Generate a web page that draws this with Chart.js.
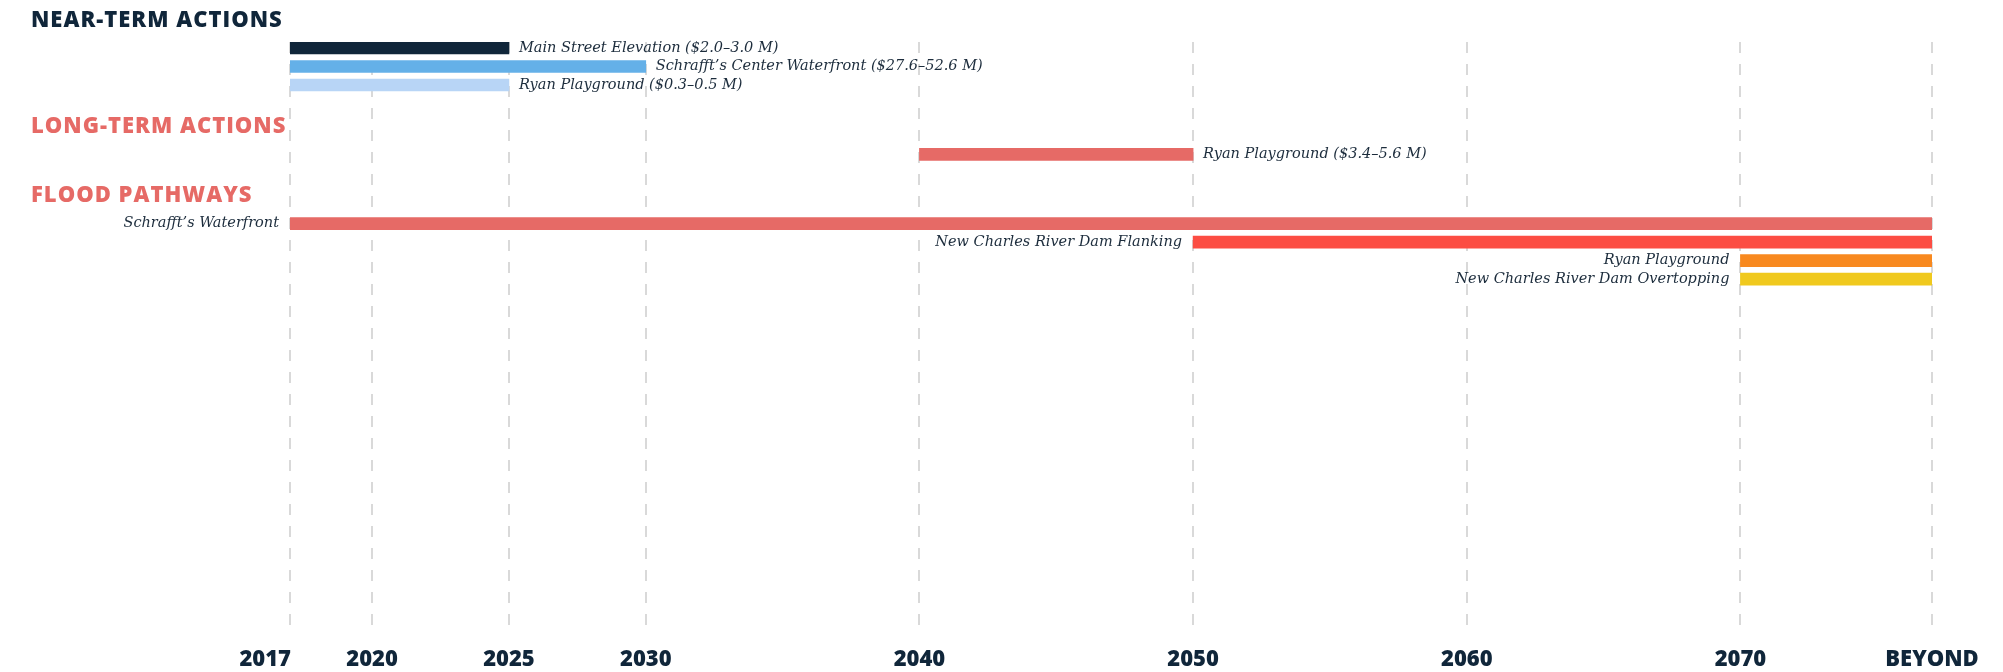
<!DOCTYPE html>
<html>
<head>
<meta charset="utf-8">
<script src="https://cdn.jsdelivr.net/npm/chart.js@4.4.1/dist/chart.umd.min.js"></script>
<style>
  html, body { margin: 0; padding: 0; background: #fff; }
  #wrap { width: 2003px; height: 672px; }
</style>
</head>
<body>
<div id="wrap"><canvas id="timeline" width="2003" height="672"></canvas></div>
<script>
// Data

const groupTitles = ['NEAR-TERM ACTIONS', 'LONG-TERM ACTIONS', 'FLOOD PATHWAYS'];

const nearLabels = ['Main Street Elevation ($2.0–3.0 M)', 'Schrafft’s Center Waterfront ($27.6–52.6 M)', 'Ryan Playground ($0.3–0.5 M)'];
const nearStart = [2017, 2017, 2017];
const nearEnd = [2025, 2030, 2025];

const longLabels = ['Ryan Playground ($3.4–5.6 M)'];
const longStart = [2040];
const longEnd = [2050];

const floodLabels = ['Schrafft’s Waterfront', 'New Charles River Dam Flanking', 'Ryan Playground', 'New Charles River Dam Overtopping'];
const floodStart = [2017, 2050, 2070, 2070];
const floodEnd = [2077, 2077, 2077, 2077]; // 2077 = "BEYOND"

const yearTicks = [2017, 2020, 2025, 2030, 2040, 2050, 2060, 2070, 2077];
const yearTickLabels = ['2017', '2020', '2025', '2030', '2040', '2050', '2060', '2070', 'BEYOND'];

// Styles

const NAVY = '#10263a';
const SALMON = '#e66a66';
const TEXT = '#1c2c3c';
const nearColors = ['#10263a', '#64b0e8', '#b8d5f6'];
const longColors = ['#e66a66'];
const floodColors = ['#e66a66', '#fc4d43', '#f8891f', '#f0c91e'];

const ROW_PX = 18.5;       // pixels per bar row
const TITLE_TO_BAR = 1.5;  // rows between a title and its first bar
const BAR_TO_TITLE = 2.25; // rows between a group's last bar and the next title
const AREA_TOP = 42;
const AREA_BOTTOM = 631;

// Build rows

const groups = [
  { title: groupTitles[0], titleColor: NAVY, labels: nearLabels, start: nearStart, end: nearEnd, colors: nearColors, side: 'right' },
  { title: groupTitles[1], titleColor: SALMON, labels: longLabels, start: longStart, end: longEnd, colors: longColors, side: 'right' },
  { title: groupTitles[2], titleColor: SALMON, labels: floodLabels, start: floodStart, end: floodEnd, colors: floodColors, side: 'left' }
];

const titleRows = [];
const bars = [];
let slot = -TITLE_TO_BAR;
groups.forEach((g, gi) => {
  if (gi > 0) slot += BAR_TO_TITLE;
  titleRows.push({ text: g.title, y: slot, color: g.titleColor });
  slot += TITLE_TO_BAR;
  g.labels.forEach((label, i) => {
    if (i > 0) slot += 1;
    bars.push({ x: [g.start[i], g.end[i]], y: slot, label: label, color: g.colors[i], side: g.side });
  });
});

// first bar's top edge sits on the top of the plot area
const yMin = -6 / ROW_PX;
const yMax = yMin + (AREA_BOTTOM - AREA_TOP) / ROW_PX;

// Text drawn next to the bars

const textPlugin = {
  id: 'timelineText',
  afterDraw(chart) {
    const ctx = chart.ctx;
    const yScale = chart.scales.y;
    const xScale = chart.scales.x;
    ctx.save();
    ctx.textBaseline = 'middle';

    ctx.textAlign = 'left';
    ctx.font = '800 22px "Open Sans"';
    ctx.letterSpacing = '1px';
    titleRows.forEach(t => {
      ctx.fillStyle = t.color;
      ctx.fillText(t.text, 31, yScale.getPixelForValue(t.y));
    });
    ctx.letterSpacing = '0px';

    ctx.font = 'italic 14.5px "DejaVu Serif"';
    ctx.fillStyle = TEXT;
    chart.getDatasetMeta(0).data.forEach((bar, i) => {
      const b = bars[i];
      const p = bar.getProps(['x', 'base', 'y'], true);
      if (b.side === 'right') {
        ctx.textAlign = 'left';
        ctx.fillText(b.label, Math.max(p.x, p.base) + 10, p.y);
      } else {
        ctx.textAlign = 'right';
        ctx.fillText(b.label, Math.min(p.x, p.base) - 11, p.y);
      }
    });

    // the first year label sits to the left of its tick
    const tickFont = Chart.helpers.toFont(xScale.options.ticks.font);
    ctx.font = tickFont.string;
    ctx.fillStyle = NAVY;
    ctx.textAlign = 'right';
    ctx.fillText(yearTickLabels[0], xScale.getPixelForValue(yearTicks[0]) + 1, xScale.top + xScale.options.ticks.padding + tickFont.lineHeight / 2);
    ctx.restore();
  }
};

// Chart

const chart = new Chart(document.getElementById('timeline'), {
  type: 'bar',
  data: {
    datasets: [{
      data: bars.map(b => ({ x: b.x, y: b.y })),
      backgroundColor: bars.map(b => b.color),
      barThickness: 12,
      borderWidth: 0,
      borderSkipped: false
    }]
  },
  options: {
    indexAxis: 'y',
    responsive: false,
    animation: false,
    // x axis box is 2*padding + label height; pull it down so labels sit 29px under the grid
    layout: { padding: { left: 290, right: 71, top: AREA_TOP, bottom: -17 } },
    plugins: { legend: { display: false }, tooltip: { enabled: false } },
    scales: {
      x: {
        type: 'linear',
        min: 2017,
        max: 2077,
        afterBuildTicks: s => { s.ticks = yearTicks.map(v => ({ value: v })); },
        grid: { color: '#d9d9d9', lineWidth: 2, drawTicks: false },
        border: { display: false, dash: [11, 11] },
        ticks: {
          padding: 16,
          autoSkip: false,
          maxRotation: 0,
          font: { family: 'Open Sans', weight: '800', size: 22 },
          color: c => c.index === 0 ? 'rgba(0,0,0,0)' : NAVY,
          callback: (v, i) => yearTickLabels[i]
        }
      },
      y: {
        type: 'linear',
        reverse: true,
        offset: false,
        min: yMin,
        max: yMax,
        display: false
      }
    }
  },
  plugins: [textPlugin]
});
</script>
</body>
</html>
